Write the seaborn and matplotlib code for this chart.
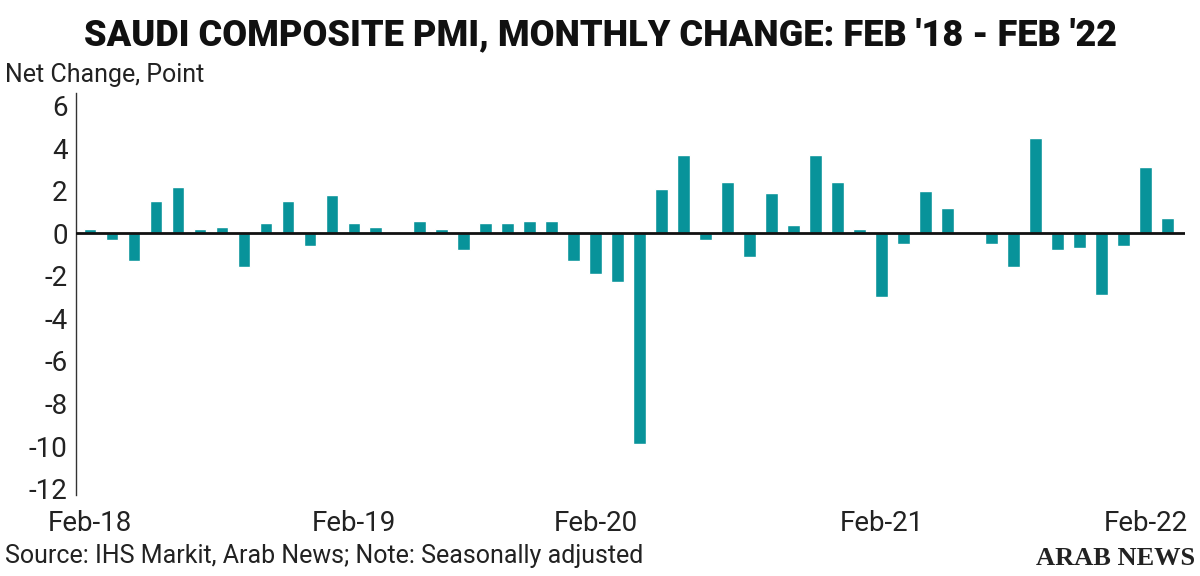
import pandas as pd
import matplotlib
matplotlib.use("Agg")
import matplotlib.pyplot as plt
import seaborn as sns

# --- DATA: monthly net change in Saudi composite PMI ---
values = [0.2, -0.3, -1.3, 1.5, 2.2, 0.2, 0.3, -1.6, 0.5, 1.5,
          -0.6, 1.8, 0.5, 0.3, 0.0, 0.6, 0.2, -0.8, 0.5, 0.5,
          0.6, 0.6, -1.3, -1.9, -2.3, -9.9, 2.1, 3.7, -0.3, 2.4,
          -1.1, 1.9, 0.4, 3.7, 2.4, 0.2, -3.0, -0.5, 2.0, 1.2,
          0.0, -0.5, -1.6, 4.5, -0.8, -0.7, -2.9, -0.6, 3.1, 0.7]
tick_idx = [0, 12, 23, 36, 48]
tick_labels = ["Feb-18", "Feb-19", "Feb-20", "Feb-21", "Feb-22"]
y_ticks = [6, 4, 2, 0, -2, -4, -6, -8, -10, -12]

df = pd.DataFrame({"idx": range(len(values)), "change": values})

sns.set_style("white")
plt.rcParams["font.family"] = ["Roboto", "DejaVu Sans"]

fig = plt.figure(figsize=(12, 5.76), dpi=100)
ax = fig.add_axes([0.0633, 0.1406, 0.9242, 0.698])

sns.barplot(data=df, x="idx", y="change", color="#08939a", saturation=1,
            width=0.58, native_scale=True, ax=ax)

ax.axhline(0, color="#111111", linewidth=2, zorder=3)
ax.set_ylim(-12.3, 6.6)
ax.set_xlim(-0.64, 49.8)
ax.set_yticks(y_ticks)
ax.set_yticklabels([str(v) for v in y_ticks])
ax.set_xticks(tick_idx)
ax.set_xticklabels(tick_labels)
ax.tick_params(axis="both", length=0, labelsize=20, colors="#222222", pad=6)
ax.tick_params(axis="x", pad=11)
ax.set_xlabel("")
ax.set_ylabel("")
for s in ["top", "right", "bottom"]:
    ax.spines[s].set_visible(False)
ax.spines["left"].set_color("#333333")
ax.spines["left"].set_linewidth(1)

fig.text(0.5, 0.938, "SAUDI COMPOSITE PMI, MONTHLY CHANGE: FEB '18 - FEB '22",
         ha="center", va="center", fontsize=26, fontweight="heavy", color="#111111")
fig.text(0.004, 0.87, "Net Change, Point", ha="left", va="center",
         fontsize=18, color="#222222")
fig.text(0.004, 0.034, "Source: IHS Markit, Arab News; Note: Seasonally adjusted",
         ha="left", va="center", fontsize=18, color="#222222")
fig.text(0.996, 0.03, "ARAB NEWS", ha="right", va="center", fontsize=19,
         fontweight="bold", family=["Liberation Serif", "DejaVu Serif"], color="#222222")

fig.savefig("out.png", dpi=100)
